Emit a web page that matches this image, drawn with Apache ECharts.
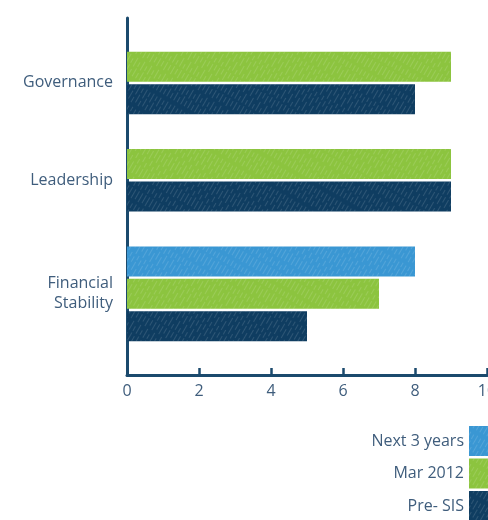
<!DOCTYPE html>
<html>
<head>
<meta charset="utf-8">
<script src="https://cdn.jsdelivr.net/npm/echarts@6/dist/echarts.min.js"></script>
<style>
  html, body { margin: 0; padding: 0; background: #ffffff; }
  #chart { width: 488px; height: 520px; }
</style>
</head>
<body>
<div id="chart"></div>
<script>
// Scores per area (0-10); null means the period was not scored for that area.
const categories = ['Governance', 'Leadership', 'Financial\nStability'];
const seriesNames = ['Next 3 years', 'Mar 2012', 'Pre- SIS'];
const next3Years = [null, null, 8];
const mar2012 = [9, 9, 7];
const preSIS = [8, 9, 5];
const xTicks = [0, 2, 4, 6, 8, 10];

const seriesValues = [next3Years, mar2012, preSIS];
const colors = ['#3a97d3', '#8cc43f', '#0f3d61'];
const axisColor = '#1b4a6d';
const textColor = '#3f5d7c';
const fontFamily = '"Open Sans", "Noto Sans", sans-serif';

// One band row per drawn bar, with an empty row before each group and
// one after the last, so missing periods collapse instead of leaving holes.
const rowOwner = [];      // [seriesIndex, categoryIndex] or null for spacer rows
const labelAt = {};       // band position (in rows) -> category label
rowOwner.push(null);
categories.forEach((cat, ci) => {
  const start = rowOwner.length;
  seriesValues.forEach((vals, si) => {
    if (vals[ci] != null) rowOwner.push([si, ci]);
  });
  const end = rowOwner.length;
  labelAt[((start + end) / 2).toFixed(1)] = cat;
  rowOwner.push(null);
});
const rowCount = rowOwner.length;
const rowNames = rowOwner.map((o, i) => 'r' + i);

// Light diagonal streaks over the fills, like chalk strokes.
const decalFor = () => ({
  symbol: 'rect',
  symbolSize: 1,
  color: 'rgba(255,255,255,0.13)',
  dashArrayX: [[6, 3, 10, 4], [9, 2, 5, 5]],
  dashArrayY: [1, 3],
  rotation: -Math.PI / 3
});

const series = seriesNames.map((name, si) => ({
  name: name,
  type: 'bar',
  stack: 'rows',
  yAxisIndex: 0,
  barWidth: 30,
  itemStyle: { color: colors[si], decal: decalFor() },
  data: rowOwner.map(o => (o && o[0] === si) ? seriesValues[si][o[1]] : '-')
}));

const chart = echarts.init(document.getElementById('chart'), null, { renderer: 'canvas' });
chart.setOption({
  animation: false,
  backgroundColor: '#ffffff',
  aria: { enabled: true, decal: { show: true } },
  textStyle: { fontFamily: fontFamily },
  grid: { left: 127, right: 1, top: 18, bottom: 145, containLabel: false, outerBoundsMode: 'none' },
  legend: {
    data: seriesNames,
    orient: 'vertical',
    align: 'right',
    right: -11,
    top: 426,
    height: 110,
    padding: 0,
    itemWidth: 30,
    itemHeight: 30,
    itemGap: 2.5,
    icon: 'rect',
    textStyle: { color: textColor, fontSize: 16, fontFamily: fontFamily }
  },
  xAxis: {
    type: 'value',
    position: 'bottom',
    min: xTicks[0],
    max: xTicks[xTicks.length - 1],
    interval: xTicks[1] - xTicks[0],
    axisLine: { show: true, onZero: false, lineStyle: { color: axisColor, width: 3 } },
    axisTick: { show: true, inside: true, length: 7, lineStyle: { color: axisColor, width: 2.5 } },
    axisLabel: { color: textColor, fontSize: 16, margin: 8, fontFamily: fontFamily },
    splitLine: { show: false }
  },
  yAxis: [
    {
      type: 'category',
      data: rowNames,
      inverse: true,
      axisLine: { show: true, onZero: false, lineStyle: { color: axisColor, width: 3 } },
      axisTick: { show: false },
      axisLabel: { show: false },
      splitLine: { show: false }
    },
    {
      type: 'value',
      position: 'left',
      min: 0,
      max: rowCount,
      interval: 0.5,
      inverse: true,
      axisLine: { show: false, onZero: false },
      axisTick: { show: false },
      splitLine: { show: false },
      axisLabel: {
        color: textColor,
        fontSize: 16,
        lineHeight: 20,
        margin: 14,
        align: 'right',
        fontFamily: fontFamily,
        formatter: v => labelAt[Number(v).toFixed(1)] || ''
      }
    }
  ],
  series: series
});
</script>
</body>
</html>
